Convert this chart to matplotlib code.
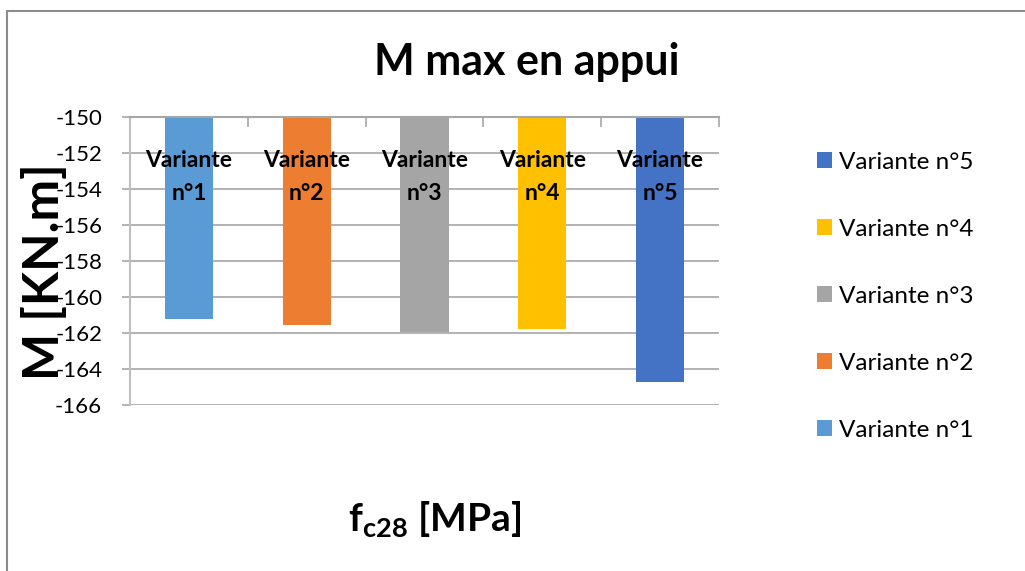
import matplotlib
matplotlib.use("Agg")
from matplotlib import pyplot as plt
from matplotlib.patches import Rectangle
import numpy as np

plt.rcParams['font.family'] = ['Lato', 'DejaVu Sans']
plt.rcParams['mathtext.fontset'] = 'custom'
plt.rcParams['mathtext.bf'] = 'Lato:bold'
plt.rcParams['mathtext.rm'] = 'Lato'

# data
variantes = ["Variante n°1", "Variante n°2", "Variante n°3", "Variante n°4", "Variante n°5"]
bar_labels = ["Variante\nn°1", "Variante\nn°2", "Variante\nn°3", "Variante\nn°4", "Variante\nn°5"]
m_max = [-161.2, -161.57, -161.92, -161.8, -164.73]
colors = ["#5B9BD5", "#ED7D31", "#A5A5A5", "#FFC000", "#4472C4"]
y_ticks = [-150, -152, -154, -156, -158, -160, -162, -164, -166]

fig = plt.figure(figsize=(10.25, 5.71), dpi=100)
ax = fig.add_axes([0.1268, 0.2907, 0.5746, 0.5044])

# chart frame (cut off on the right and bottom in the reference)
fig.patches.append(Rectangle((7/1025, -0.1), 1.2, 1 - 11/571 + 0.1,
                             transform=fig.transFigure, fill=False,
                             edgecolor="#8C8C8C", linewidth=1.5))

x = np.arange(len(m_max))
handles = []
for i in range(len(m_max)):
    b = ax.bar(x[i], m_max[i], width=0.41, color=colors[i], label=variantes[i], zorder=2)
    handles.append(b)
    ax.annotate(bar_labels[i], xy=(x[i], y_ticks[0]), xytext=(0, -43),
                textcoords="offset points", ha="center", va="center",
                fontsize=16.5, fontweight="bold", linespacing=1.72, zorder=3)

ax.set_ylim(-166, -150)
ax.set_xlim(-0.5, 4.5)
ax.set_yticks(y_ticks)
ax.set_yticklabels([str(v) for v in y_ticks], fontsize=16)
ax.yaxis.grid(True, color="#A6A6A6", linewidth=1.2, zorder=0)
ax.set_axisbelow(True)

# category axis sits at the top (-150), ticks at category boundaries
ax.xaxis.tick_top()
ax.set_xticks(np.arange(-0.5, 5, 1))
ax.set_xticklabels([])
ax.tick_params(axis="x", direction="in", length=7, color="#A6A6A6", width=1.2)
ax.tick_params(axis="y", direction="out", length=6, color="#A6A6A6", width=1.2, pad=14)

for s in ["right", "bottom"]:
    ax.spines[s].set_visible(False)
ax.spines["left"].set_color("#BFBFBF")
ax.spines["left"].set_linewidth(1.5)
ax.spines["top"].set_color("#A6A6A6")
ax.spines["top"].set_linewidth(1.5)

fig.text(527/1025, 1 - 62/571, "M max en appui", ha="center", va="center",
         fontsize=31, fontweight="bold")
fig.text(44/1025, 1 - 272/571, "M [KN.m]", ha="center", va="center",
         rotation=90, fontsize=36, fontweight="bold")
fig.text(435/1025, 1 - 520/571, r"f$_{\mathbf{c28}}$ [MPa]", ha="center", va="center",
         fontsize=28, fontweight="bold")

leg = fig.legend(handles[::-1], variantes[::-1], loc="upper left",
                 bbox_to_anchor=(795/1025, 1 - 130/571), frameon=False,
                 fontsize=17.5, handlelength=0.62, handleheight=0.62,
                 handletextpad=0.3, labelspacing=1.89)

plt.savefig("out.png", dpi=100)
